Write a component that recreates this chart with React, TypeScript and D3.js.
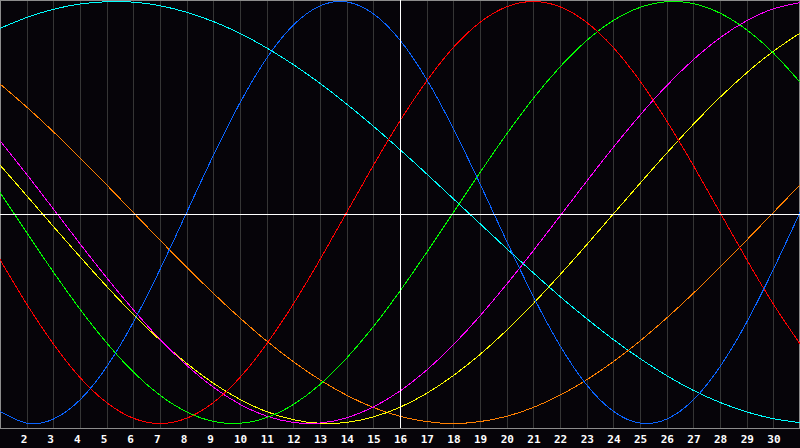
import { useEffect, useRef } from 'react';
import * as d3 from 'd3';

// day positions 0..30 across the chart, labels sit on grid lines 1..29
const days = [0, 1, 2, 3, 4, 5, 6, 7, 8, 9, 10, 11, 12, 13, 14, 15, 16, 17, 18, 19, 20, 21, 22, 23, 24, 25, 26, 27, 28, 29, 30];
const dayLabels = ['2', '3', '4', '5', '6', '7', '8', '9', '10', '11', '12', '13', '14', '15', '16', '17', '18', '19', '20', '21', '22', '23', '24', '25', '26', '27', '28', '29', '30'];
const todayIndex = 15;

// cycle values in percent at each day line
const physical = [-94.2, -99.8, -97.9, -88.8, -73.1, -52.0, -27.0, 0, 27.0, 52.0, 73.1, 88.8, 97.9, 99.8, 94.2, 81.7, 63.1, 39.8, 13.6, -13.6, -39.8, -63.1, -81.7, -94.2, -99.8, -97.9, -88.8, -73.1, -52.0, -27.0, 0];
const emotional = [-22.3, -43.4, -62.3, -78.2, -90.1, -97.5, -100, -97.5, -90.1, -78.2, -62.3, -43.4, -22.3, 0, 22.3, 43.4, 62.3, 78.2, 90.1, 97.5, 100, 97.5, 90.1, 78.2, 62.3, 43.4, 22.3, 0, -22.3, -43.4, -62.3];
const intellectual = [9.5, -9.5, -28.2, -45.8, -61.8, -75.6, -86.6, -94.5, -99.0, -99.9, -97.2, -91.0, -81.5, -69.0, -54.1, -37.2, -18.9, 0, 18.9, 37.2, 54.1, 69.0, 81.5, 91.0, 97.2, 99.9, 99.0, 94.5, 86.6, 75.6, 61.8];
const intuitive = [34.0, 18.1, 1.7, -14.8, -30.9, -46.1, -60.1, -72.4, -82.8, -90.9, -96.5, -99.5, -99.8, -97.3, -92.2, -84.6, -74.7, -62.7, -49.0, -34.0, -18.1, -1.7, 14.8, 30.9, 46.1, 60.1, 72.4, 82.8, 90.9, 96.5, 99.5];
const aesthetic = [22.5, 8.0, -6.6, -21.0, -35.0, -48.3, -60.5, -71.5, -80.9, -88.6, -94.4, -98.2, -99.9, -99.5, -96.9, -92.3, -85.7, -77.3, -67.3, -55.8, -43.1, -29.5, -15.3, -0.7, 13.8, 28.1, 41.8, 54.6, 66.2, 76.4, 85.0];
const awareness = [60.9, 50.0, 38.3, 25.9, 13.1, 0, -13.1, -25.9, -38.3, -50.0, -60.9, -70.7, -79.3, -86.6, -92.4, -96.6, -99.1, -100, -99.1, -96.6, -92.4, -86.6, -79.3, -70.7, -60.9, -50.0, -38.3, -25.9, -13.1, 0, 13.1];
const spiritual = [87.3, 92.4, 96.3, 98.8, 99.9, 99.7, 98.0, 94.9, 90.5, 84.9, 78.0, 70.1, 61.2, 51.4, 40.9, 29.8, 18.3, 6.5, -5.3, -17.1, -28.6, -39.8, -50.3, -60.2, -69.2, -77.3, -84.3, -90.0, -94.5, -97.7, -99.6];

const seriesNames = ['spiritual', 'awareness', 'aesthetic', 'intuitive', 'intellectual', 'emotional', 'physical'];
const seriesValues = [spiritual, awareness, aesthetic, intuitive, intellectual, emotional, physical];
const seriesColors = ['#00ffff', '#ff8000', '#ffff00', '#ff00ff', '#00ff00', '#ff0000', '#0a64ff'];

export default function App() {
  const ref = useRef<SVGSVGElement>(null);

  useEffect(() => {
    const width = 800;
    const height = 448;
    const plotHeight = 428;
    const svg = d3.select(ref.current);
    svg.selectAll('*').remove();
    svg.attr('viewBox', `0 0 ${width} ${height}`);

    svg.append('rect').attr('width', width).attr('height', height).attr('fill', '#060409');

    const x = d3.scaleLinear().domain([0, 30]).range([0, width]);
    const y = d3.scaleLinear().domain([-100, 100]).range([423.5, 1.5]);

    const gridDays = days.slice(1, 30);

    svg
      .append('g')
      .selectAll('line')
      .data(gridDays.filter((d) => d !== todayIndex))
      .join('line')
      .attr('x1', (d) => Math.round(x(d)) + 0.5)
      .attr('x2', (d) => Math.round(x(d)) + 0.5)
      .attr('y1', 0)
      .attr('y2', plotHeight)
      .attr('stroke', '#353535');

    // frame
    svg
      .append('rect')
      .attr('x', 0.5)
      .attr('y', 0.5)
      .attr('width', width - 1)
      .attr('height', plotHeight)
      .attr('fill', 'none')
      .attr('stroke', '#8c8c8c');

    const line = d3
      .line<number>()
      .x((_, i) => x(days[i]))
      .y((v) => y(v))
      .curve(d3.curveNatural);

    svg
      .append('g')
      .selectAll('path')
      .data(seriesValues)
      .join('path')
      .attr('class', (_, i) => seriesNames[i])
      .attr('d', (values) => line(values))
      .attr('fill', 'none')
      .attr('stroke', (_, i) => seriesColors[i])
      .attr('stroke-width', 1)
      .attr('shape-rendering', 'crispEdges');

    // today marker and zero line
    svg
      .append('line')
      .attr('x1', Math.round(x(todayIndex)) + 0.5)
      .attr('x2', Math.round(x(todayIndex)) + 0.5)
      .attr('y1', 0)
      .attr('y2', plotHeight)
      .attr('stroke', '#ffffff');

    svg
      .append('line')
      .attr('x1', 0)
      .attr('x2', width)
      .attr('y1', plotHeight / 2 + 0.5)
      .attr('y2', plotHeight / 2 + 0.5)
      .attr('stroke', '#ffffff');

    svg
      .append('g')
      .selectAll('text')
      .data(gridDays)
      .join('text')
      .attr('x', (d) => x(d) - 6)
      .attr('y', 443)
      .attr('fill', '#ffffff')
      .attr('font-family', 'DejaVu Sans Mono, monospace')
      .attr('font-weight', 'bold')
      .attr('font-size', 11)
      .text((_, i) => dayLabels[i]);
  }, []);

  return (
    <svg
      ref={ref}
      width={800}
      height={448}
      style={{ position: 'fixed', left: 0, top: 0, display: 'block' }}
      role="img"
      aria-label="Biorhythm chart"
    />
  );
}
